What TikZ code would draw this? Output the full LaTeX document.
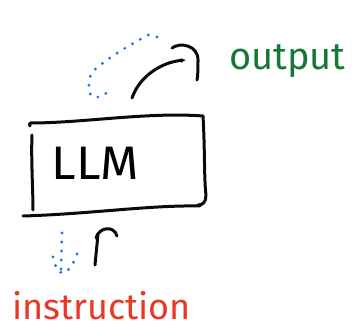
\documentclass[tikz,border=0pt]{standalone}
\usepackage{fontspec}
\usepackage{graphicx}
\setmainfont{Fira Sans}
\usetikzlibrary{arrows.meta}
\definecolor{penblack}{RGB}{10,10,10}
\definecolor{penblue}{RGB}{30,115,240}
\definecolor{pengreen}{RGB}{20,120,55}
\definecolor{penred}{RGB}{232,55,35}
\tikzset{
  ink/.style={draw=penblack, line width=3pt, line cap=round, line join=round},
  dots/.style={draw=penblue, line width=3.2pt, line cap=round, dash pattern=on 0pt off 9pt},
  label/.style={inner sep=0pt, anchor=base west}
}
\begin{document}
\begin{tikzpicture}[x=1pt, y=-1pt]
  \useasboundingbox (0,0) rectangle (354,328);

  % the model box, sketched edge by edge
  \node[font=\fontsize{47}{47}\selectfont, inner sep=0pt] (llm) at (95,163) {\scalebox{1.05}[1]{LLM}};
  \draw[ink] (30,126) .. controls (28,122) and (32,123) .. (36,123)
                      .. controls (90,122) and (150,112) .. (203,116);
  \draw[ink] (203,116) .. controls (205,150) and (204,180) .. (206,195)
                       .. controls (206,202) and (203,205) .. (198,205);
  \draw[ink] (23,216) .. controls (90,214) and (150,205) .. (200,206);
  \draw[ink] (32,135) .. controls (31,160) and (33,190) .. (33,210);

  % arrow out of the box towards the output
  \coordinate (outstart) at (132,98);
  \coordinate (outend) at (186,60);
  \draw[ink, -{Latex[length=5pt,width=5pt]}] (outstart) .. controls (140,75) and (163,62) .. (outend);
  \draw[ink] (172,48) .. controls (180,42) and (198,45) .. (198,60)
                      .. controls (198,68) and (198,75) .. (197,80);

  % dotted return path above the box
  \draw[dots] (157,37) -- (148,35) .. controls (130,45) and (100,62) .. (91,74)
              .. controls (88,82) and (88,95) .. (93,97) -- (100,97) -- (108,92);

  % arrow from the instruction into the box
  \coordinate (instart) at (95,265);
  \coordinate (inend) at (98,234);
  \draw[ink] (instart) -- (inend);
  \draw[ink] (96,238) .. controls (99,227) and (114,225) .. (117,236);

  % dotted arrow pointing down to the instruction
  \draw[dots] (62,233) -- (61,271);
  \draw[dots] (53,257) -- (57,270) -- (62,273);
  \draw[dots] (77,254) -- (72,266) -- (66,272);

  % labels
  \node[label, text=pengreen, font=\fontsize{38}{38}\selectfont] (output) at (229,70)
    {output};
  \node[label, text=penred, font=\fontsize{36}{36}\selectfont] (instruction) at (12,320)
    {instruction};
\end{tikzpicture}
\end{document}
